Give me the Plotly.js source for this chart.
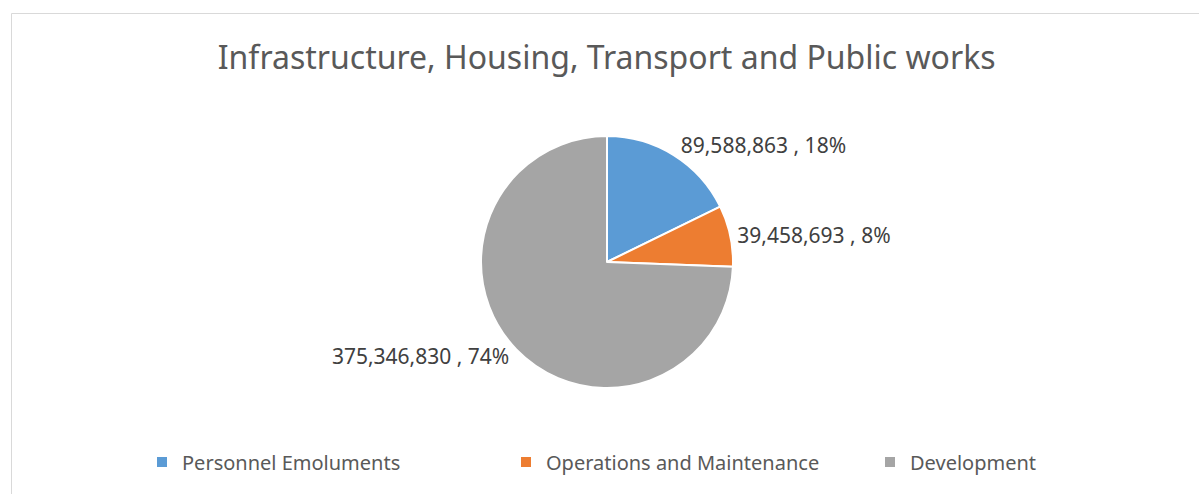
<!DOCTYPE html>
<html>
<head>
<meta charset="utf-8">
<script src="https://cdn.plot.ly/plotly-3.0.1.min.js"></script>
<style>html,body{margin:0;padding:0;background:#fff;}#chart{width:1199px;height:494px;}</style>
</head>
<body>
<div id="chart"></div>
<script>
const categories = ["Personnel Emoluments", "Operations and Maintenance", "Development"];
const values = [89588863, 39458693, 375346830];
const colors = ["#5b9bd5", "#ed7d31", "#a5a5a5"];
const chartTitle = "Infrastructure, Housing, Transport and Public works";

const W = 1199, H = 494;
const cx = 607, cy = 262, r = 126;

const trace = {
  type: "pie",
  labels: categories,
  values: values,
  sort: false,
  direction: "clockwise",
  rotation: 0,
  marker: {colors: colors, line: {color: "#ffffff", width: 2}},
  texttemplate: "%{value:,} , %{percent:.0%}",
  textposition: "outside",
  textfont: {family: "Noto Sans", size: 21, color: "#404040"},
  hoverinfo: "label+value+percent",
  domain: {x: [(cx - r) / W, (cx + r) / W], y: [(H - cy - r) / H, (H - cy + r) / H]},
  automargin: false
};

const layout = {
  width: W, height: H,
  margin: {l: 0, r: 0, t: 0, b: 0, autoexpand: false},
  paper_bgcolor: "#ffffff",
  title: {text: chartTitle, x: 0.506, xanchor: "center", y: 1 - 58 / H, yanchor: "middle",
          font: {family: "Noto Sans", size: 32, color: "#595959"}},
  showlegend: true,
  legend: {orientation: "h", x: 688 / W, xanchor: "center", y: 1 - 462 / H, yanchor: "middle",
           font: {family: "Noto Sans", size: 20, color: "#595959"}, itemwidth: 30, traceorder: "normal",
           entrywidth: 319, entrywidthmode: "pixels", bgcolor: "rgba(0,0,0,0)"},
  shapes: [{type: "rect", xref: "paper", yref: "paper", x0: 11.5 / W, x1: 1.01, y0: -0.05, y1: 1 - 13.5 / H,
            line: {color: "#d9d9d9", width: 1}, fillcolor: "rgba(0,0,0,0)"}]
};

Plotly.newPlot("chart", [trace], layout, {displayModeBar: false, staticPlot: true});
</script>
</body>
</html>
